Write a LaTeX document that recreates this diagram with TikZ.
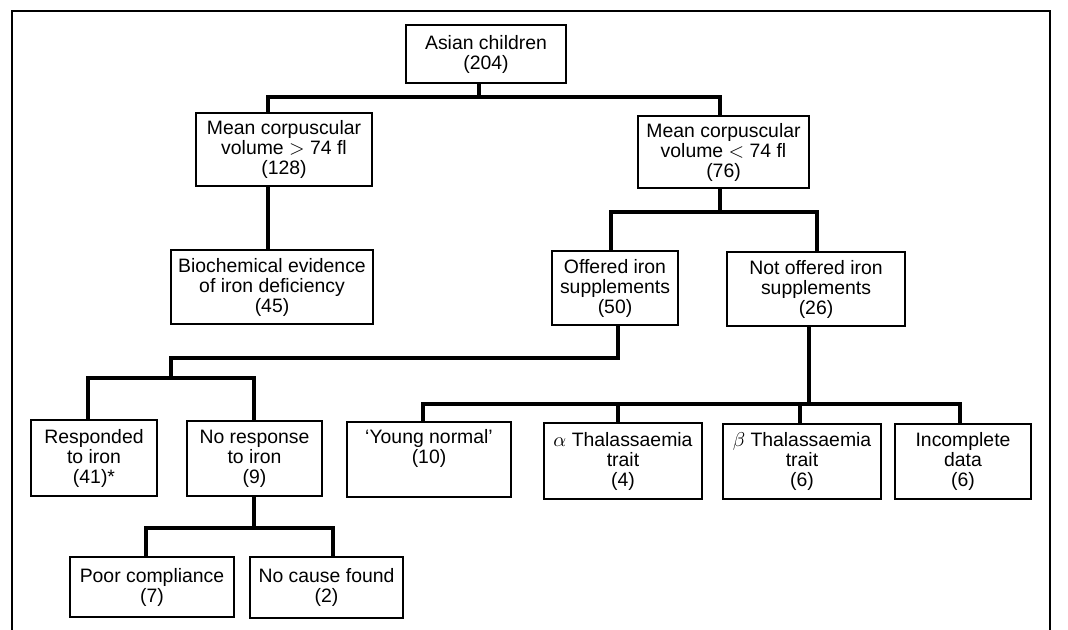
\documentclass[tikz,border=0pt]{standalone}
\usepackage{fontspec}
\setmainfont{Liberation Sans}
\usepackage{tikz}
\usetikzlibrary{positioning}

\begin{document}
\begin{tikzpicture}[
  x=0.5pt, y=-0.5pt,
  box/.style={rectangle,draw,line width=0.65pt,align=center,inner sep=1pt,
    font=\fontsize{9.7}{10}\selectfont},
  link/.style={line width=1.7pt,line cap=rect},
  frame/.style={line width=1pt}
]
\useasboundingbox (0,0) rectangle (1068,630);
\draw[frame] (12,630) -- (12,11) -- (1050,11) -- (1050,630);

\node[box,minimum width=80pt,minimum height=29pt] (asian) at (486,54) {Asian children\\(204)};
\node[box,minimum width=88pt,minimum height=36.5pt] (mcvhi) at (284,149.5) {Mean corpuscular\\volume $>$ 74 fl\\(128)};
\node[box,minimum width=85.5pt,minimum height=36pt] (mcvlo) at (723.5,152) {Mean corpuscular\\volume $<$ 74 fl\\(76)};
\node[box,minimum width=101pt,minimum height=37pt] (biochem) at (272,287) {Biochemical evidence\\of iron deficiency\\(45)};
\node[box,minimum width=63pt,minimum height=37pt] (offered) at (615,288) {Offered iron\\supplements\\(50)};
\node[box,minimum width=89pt,minimum height=37pt] (notoff) at (816,289) {Not offered iron\\supplements\\(26)};
\node[box,minimum width=63pt,minimum height=38pt] (resp) at (94,458) {Responded\\to iron\\(41)*};
\node[box,minimum width=67.5pt,minimum height=37.5pt] (noresp) at (254.5,458.5) {No response\\to iron\\(9)};
\node[box,minimum width=82pt,minimum height=30pt] (poor) at (152,587) {Poor compliance\\(7)};
\node[box,minimum width=76.5pt,minimum height=30.5pt] (nocause) at (326.5,587.5) {No cause found\\(2)};
\node[box,minimum width=82pt,minimum height=37.5pt] (young) at (429,459.5) {‘Young normal’\\(10)\\\strut};
\node[box,minimum width=79pt,minimum height=38pt] (alpha) at (623,461) {$\alpha$ Thalassaemia\\trait\\(4)};
\node[box,minimum width=79pt,minimum height=37.5pt] (beta) at (802,461.5) {$\beta$ Thalassaemia\\trait\\(6)};
\node[box,minimum width=68pt,minimum height=37.5pt] (incomp) at (963,461.5) {Incomplete\\data\\(6)};

% first split
\draw[link] (asian.south -| 479,0) -- (479,97) -| (mcvhi.north -| 268,0);
\draw[link] (479,97) -| (mcvlo.north -| 720,0);
\draw[link] (mcvhi.south -| 268,0) -- (biochem.north -| 268,0);
% low volume
\draw[link] (mcvlo.south -| 720,0) -- (720,212) -| (offered.north -| 611,0);
\draw[link] (720,212) -| (notoff.north -| 817,0);
% offered iron
\draw[link] (offered.south -| 618,0) |- (171,358) -- (171,378);
\draw[link] (171,378) -| (resp.north -| 88,0);
\draw[link] (171,378) -| (noresp.north -| 254,0);
\draw[link] (noresp.south -| 254,0) -- (254,528) -| (poor.north -| 146,0);
\draw[link] (254,528) -| (nocause.north -| 333,0);
% not offered
\draw[link] (notoff.south -| 809,0) -- (809,404) -| (young.north -| 423,0);
\draw[link] (809,404) -| (alpha.north -| 618,0);
\draw[link] (809,404) -| (beta.north -| 800,0);
\draw[link] (809,404) -| (incomp.north -| 960,0);
\end{tikzpicture}
\end{document}
